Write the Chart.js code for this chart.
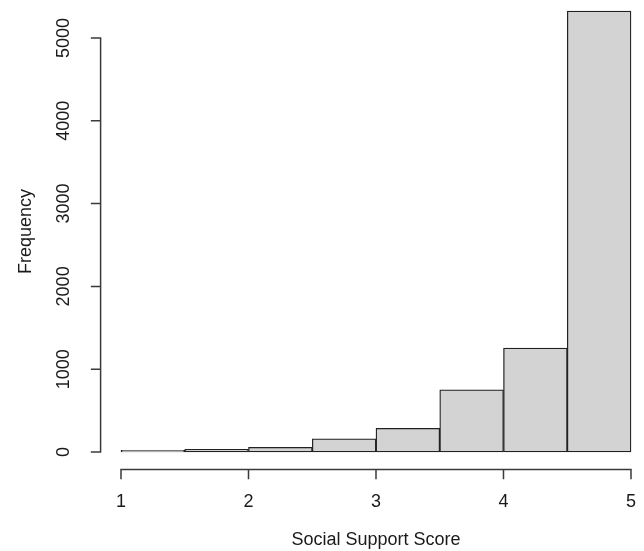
<!DOCTYPE html>
<html>
<head>
<meta charset="utf-8">
<style>
  html, body { margin: 0; padding: 0; background: #fff; }
  #wrap { width: 644px; height: 551px; }
</style>
<script src="https://cdn.jsdelivr.net/npm/chart.js@4"></script>
</head>
<body>
<div id="wrap"><canvas id="hist"></canvas></div>
<script>
// histogram bins (left edges, width 0.5) and counts
const binStarts = [1, 1.5, 2, 2.5, 3, 3.5, 4, 4.5];
const binWidth = 0.5;
const counts = [20, 32, 57, 160, 285, 750, 1256, 5326];
const xTicks = [1, 2, 3, 4, 5];
const yTicks = [0, 1000, 2000, 3000, 4000, 5000];
const xTitle = 'Social Support Score';
const yTitle = 'Frequency';

const font = '18px "Liberation Sans", Arial, sans-serif';
const axisColor = '#3a3a3a';

// R-style axes, drawn from the chart's own scales
const rAxes = {
    id: 'rAxes',
    afterDraw(chart) {
        const { ctx, chartArea, scales: { x, y } } = chart;
        const ax = chartArea.left;
        const ay = chartArea.bottom;
        const tick = 9;
        ctx.save();
        ctx.strokeStyle = axisColor;
        ctx.lineWidth = 1.5;
        ctx.lineCap = 'square';
        ctx.fillStyle = '#1a1a1a';
        ctx.font = font;

        // x axis
        const x0 = x.getPixelForValue(xTicks[0]);
        const x1 = x.getPixelForValue(xTicks[xTicks.length - 1]);
        ctx.beginPath();
        ctx.moveTo(x0, ay);
        ctx.lineTo(x1, ay);
        xTicks.forEach(v => {
            const px = x.getPixelForValue(v);
            ctx.moveTo(px, ay);
            ctx.lineTo(px, ay + tick);
        });
        ctx.stroke();
        ctx.textAlign = 'center';
        ctx.textBaseline = 'middle';
        xTicks.forEach(v => ctx.fillText(String(v), x.getPixelForValue(v), ay + 32));
        ctx.fillText(xTitle, (chartArea.left + x.getPixelForValue(5.16)) / 2, ay + 70);

        // y axis
        const y0 = y.getPixelForValue(yTicks[0]);
        const y1 = y.getPixelForValue(yTicks[yTicks.length - 1]);
        ctx.beginPath();
        ctx.moveTo(ax, y0);
        ctx.lineTo(ax, y1);
        yTicks.forEach(v => {
            const py = y.getPixelForValue(v);
            ctx.moveTo(ax, py);
            ctx.lineTo(ax - tick, py);
        });
        ctx.stroke();
        yTicks.forEach(v => {
            ctx.save();
            ctx.translate(ax - 37, y.getPixelForValue(v));
            ctx.rotate(-Math.PI / 2);
            ctx.fillText(String(v), 0, 0);
            ctx.restore();
        });
        ctx.save();
        ctx.translate(ax - 75, (y.getPixelForValue(-213) + y.getPixelForValue(5539)) / 2);
        ctx.rotate(-Math.PI / 2);
        ctx.fillText(yTitle, 0, 0);
        ctx.restore();
        ctx.restore();
    }
};

new Chart(document.getElementById('hist'), {
    type: 'bar',
    data: {
        datasets: [{
            data: binStarts.map((b, i) => ({ x: b + binWidth / 2, y: counts[i] })),
            backgroundColor: '#d3d3d3',
            borderColor: '#222',
            borderWidth: 1.3,
            borderSkipped: false,
            barPercentage: 1,
            categoryPercentage: 1
        }]
    },
    options: {
        responsive: true,
        maintainAspectRatio: false,
        animation: false,
        layout: { padding: { left: 100.6, top: 0, right: 0, bottom: 81.4 } },
        plugins: { legend: { display: false }, tooltip: { enabled: false } },
        scales: {
            x: { type: 'linear', min: 0.84, max: 5.102, offset: false, display: false },
            y: { min: -213, max: 5459, display: false }
        }
    },
    plugins: [rAxes]
});
</script>
</body>
</html>
